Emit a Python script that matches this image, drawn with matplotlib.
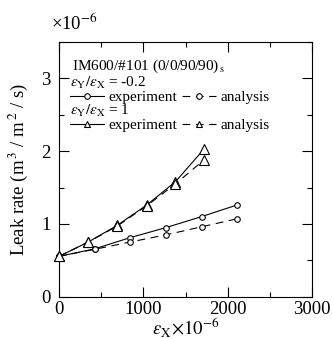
import matplotlib
matplotlib.use('Agg')
import matplotlib.pyplot as plt
from matplotlib.lines import Line2D
from matplotlib.ticker import MultipleLocator

plt.rcParams['font.family'] = ['Liberation Serif', 'DejaVu Serif']
plt.rcParams['mathtext.fontset'] = 'stix'

# strain eps_x (x1e-6) and leak rate (x1e-6 m3/m2/s)
x_circ = [0, 420, 840, 1270, 1690, 2110]
exp_circ = [0.554, 0.656, 0.81, 0.95, 1.10, 1.26]
ana_circ = [0.554, 0.65, 0.75, 0.85, 0.96, 1.07]

x_tri = [0, 345, 690, 1040, 1380, 1720]
exp_tri = [0.554, 0.75, 0.98, 1.26, 1.58, 2.03]
ana_tri = [0.554, 0.75, 0.97, 1.25, 1.55, 1.88]

lw = 0.8
dash = (7, 5)

fig = plt.figure(figsize=(3.32, 3.39), dpi=100)
ax = fig.add_axes([0.178, 0.125, 0.762, 0.751])

ax.plot(x_circ, exp_circ, '-', color='k', lw=lw, marker='o', ms=4, mfc='white', mew=0.8, clip_on=False, zorder=3)
ax.plot(x_circ, ana_circ, '--', dashes=dash, color='k', lw=lw, marker='o', ms=4, mfc='white', mew=0.8, clip_on=False, zorder=3)
ax.plot(x_tri, exp_tri, '-', color='k', lw=lw, marker='^', ms=6.5, mfc='white', mew=0.8, clip_on=False, zorder=3)
ax.plot(x_tri, ana_tri, '--', dashes=dash, color='k', lw=lw, marker='^', ms=6.5, mfc='white', mew=0.8, clip_on=False, zorder=3)

ax.set_xlim(0, 3000)
ax.set_ylim(0, 3.5)
ax.xaxis.set_major_locator(MultipleLocator(1000))
ax.xaxis.set_minor_locator(MultipleLocator(500))
ax.yaxis.set_major_locator(MultipleLocator(1))
ax.yaxis.set_minor_locator(MultipleLocator(0.5))
ax.tick_params(which='both', direction='in', top=True, right=True, width=0.8, labelsize=13.5)
ax.tick_params(which='major', length=7)
ax.tick_params(which='minor', length=3.6)
ax.tick_params(axis='y', pad=6)
for s in ax.spines.values():
    s.set_linewidth(0.8)

ax.set_xlabel(r'$\varepsilon_{\mathrm{X}}\!\times\!10^{-6}$', fontsize=13.5, labelpad=-2)
ax.set_ylabel(r'Leak rate (m$^{\,3}$ / m$^{\,2}$ / s)', fontsize=13.5, labelpad=8)
fig.text(0.155, 0.9115, '×10$^{-6}$', fontsize=13.5, va='baseline')

ax.text(0.05, 0.905, r'IM600/#101 (0/0/90/90)$_{\,\mathrm{s}}$', transform=ax.transAxes,
        fontsize=11, va='center')

def mk(ls, m, size):
    if ls == '-':
        return Line2D([], [], color='k', lw=lw, ls='-', marker=m, ms=size, mfc='white', mew=0.8)
    return Line2D([], [], color='k', lw=lw, ls='--', dashes=dash, marker=m, ms=size, mfc='white', mew=0.8)

leg_kw = dict(ncol=2, frameon=False, fontsize=11, title_fontsize=11, alignment='left',
              loc='upper left', borderpad=0, labelspacing=0, handlelength=2.2,
              handletextpad=0.3, columnspacing=0.3, borderaxespad=0)

leg1 = ax.legend([mk('-', 'o', 4), mk('--', 'o', 4)], ['experiment', 'analysis'],
                 title=r'$\varepsilon_{\mathrm{Y}}/\varepsilon_{\mathrm{X}}$ = -0.2',
                 bbox_to_anchor=(0.045, 0.872), **leg_kw)
ax.add_artist(leg1)
ax.legend([mk('-', '^', 5), mk('--', '^', 5)], ['experiment', 'analysis'],
          title=r'$\varepsilon_{\mathrm{Y}}/\varepsilon_{\mathrm{X}}$ = 1',
          bbox_to_anchor=(0.045, 0.762), **leg_kw)

fig.savefig('out.png', dpi=100)
